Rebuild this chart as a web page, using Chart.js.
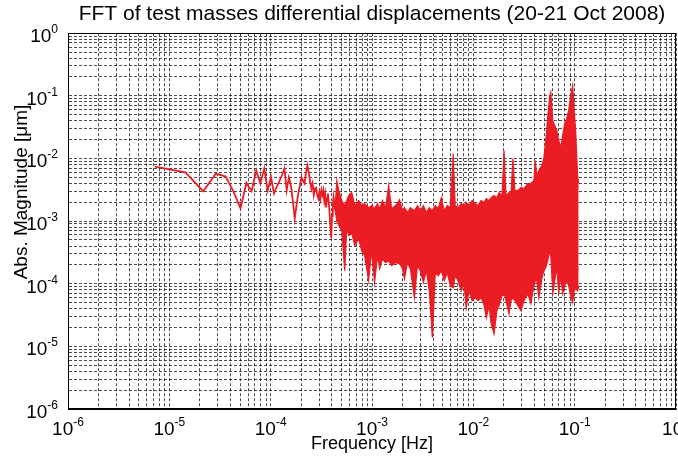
<!DOCTYPE html>
<html>
<head>
<meta charset="utf-8">
<title>FFT of test masses differential displacements</title>
<script src="https://cdn.jsdelivr.net/npm/chart.js@4.4.1/dist/chart.umd.min.js"></script>
<style>
  html, body { margin: 0; padding: 0; background: #fff; }
  canvas { display: block; }
</style>
</head>
<body>
<canvas id="fftChart" width="678" height="457"></canvas>
<script>
// low frequency bins, one trace (bin width ~7.2e-6 Hz)
var lowFreq = [
  7.2e-6, 1.44e-5, 2.16e-5, 2.88e-5, 3.60e-5, 4.32e-5, 5.04e-5, 5.76e-5, 6.48e-5, 7.20e-5,
  7.92e-5, 8.64e-5, 9.36e-5, 1.008e-4, 1.080e-4, 1.152e-4, 1.224e-4, 1.296e-4, 1.368e-4, 1.440e-4,
  1.512e-4, 1.584e-4, 1.656e-4, 1.728e-4, 1.800e-4, 1.872e-4, 1.944e-4, 2.016e-4, 2.088e-4, 2.160e-4,
  2.232e-4, 2.304e-4, 2.376e-4, 2.448e-4, 2.520e-4, 2.592e-4, 2.664e-4, 2.736e-4, 2.808e-4, 2.880e-4,
  2.952e-4, 3.024e-4, 3.096e-4, 3.168e-4, 3.240e-4, 3.312e-4, 3.384e-4, 3.456e-4, 3.528e-4, 3.600e-4,
  3.672e-4, 3.744e-4, 3.816e-4, 3.888e-4, 3.960e-4, 4.032e-4, 4.104e-4, 4.176e-4, 4.248e-4, 4.320e-4
];
var lowMag = [
  7.4e-3, 6.0e-3, 3.0e-3, 5.75e-3, 5.15e-3, 2.9e-3, 1.6e-3, 4.1e-3, 3.0e-3, 6.4e-3,
  4.0e-3, 6.9e-3, 3.1e-3, 5.0e-3, 2.75e-3, 3.6e-3, 4.4e-3, 5.5e-3, 6.9e-3, 3.1e-3,
  5.0e-3, 3.7e-3, 2.1e-3, 1.1e-3, 1.8e-3, 2.75e-3, 3.7e-3, 5.0e-3, 4.4e-3, 4.0e-3,
  6.0e-3, 7.7e-3, 6.0e-3, 4.4e-3, 3.3e-3, 4.0e-3, 2.6e-3, 3.3e-3, 3.4e-3, 2.65e-3,
  2.3e-3, 2.9e-3, 2.3e-3, 3.1e-3, 2.6e-3, 3.1e-3, 2.1e-3, 2.65e-3, 1.65e-3, 2.3e-3,
  2.75e-3, 2.0e-3, 1.35e-3, 8.5e-4, 5.4e-4, 1.2e-3, 1.8e-3, 2.4e-3, 1.9e-3, 1.5e-3
];

// above ~4e-4 Hz the bins are too dense to tell apart: upper and lower envelope
var bandFreq = [
  4.32e-4, 4.49e-4, 4.70e-4, 5.03e-4, 5.38e-4, 5.63e-4, 5.89e-4, 6.31e-4, 6.75e-4, 7.38e-4,
  7.91e-4, 8.46e-4, 9.26e-4, 9.91e-4, 1.06e-3, 1.135e-3, 1.19e-3, 1.27e-3, 1.36e-3, 1.46e-3,
  1.56e-3, 1.71e-3, 1.87e-3, 2.00e-3, 2.09e-3, 2.24e-3, 2.39e-3, 2.62e-3, 2.81e-3, 3.00e-3,
  3.21e-3, 3.44e-3, 3.68e-3, 3.94e-3, 4.21e-3, 4.51e-3, 4.83e-3, 5.16e-3, 5.53e-3, 5.92e-3,
  6.33e-3, 6.62e-3, 7.09e-3, 7.59e-3, 8.12e-3, 8.49e-3, 9.09e-3, 9.73e-3, 1.04e-2, 1.115e-2,
  1.19e-2, 1.28e-2, 1.34e-2, 1.43e-2, 1.50e-2, 1.60e-2, 1.71e-2, 1.79e-2, 1.92e-2, 2.01e-2,
  2.10e-2, 2.25e-2, 2.35e-2, 2.46e-2, 2.57e-2, 2.75e-2, 2.95e-2, 3.16e-2, 3.45e-2, 3.70e-2,
  3.96e-2, 4.09e-2, 4.23e-2, 4.43e-2, 4.74e-2, 4.96e-2, 5.19e-2, 5.43e-2, 5.68e-2, 5.81e-2,
  6.08e-2, 6.36e-2, 6.66e-2, 6.96e-2, 7.29e-2, 7.62e-2, 7.98e-2, 8.35e-2, 8.73e-2, 9.14e-2,
  9.56e-2, 9.89e-2, 1.023e-1, 1.07e-1, 1.095e-1
];
var bandHi = [
  1.5e-3, 4.45e-3, 3.08e-3, 2.13e-3, 1.77e-3, 2.13e-3, 2.56e-3, 2.86e-3, 1.77e-3, 2.13e-3,
  1.77e-3, 1.91e-3, 1.64e-3, 1.77e-3, 1.58e-3, 1.91e-3, 1.58e-3, 2.13e-3, 1.64e-3, 3.7e-3,
  1.58e-3, 1.77e-3, 2.2e-3, 1.47e-3, 1.64e-3, 1.37e-3, 1.64e-3, 1.47e-3, 1.77e-3, 1.47e-3,
  1.77e-3, 1.37e-3, 1.64e-3, 1.47e-3, 1.77e-3, 1.58e-3, 2.37e-3, 1.47e-3, 1.77e-3, 1.64e-3,
  1.2e-2, 1.77e-3, 1.64e-3, 1.91e-3, 1.77e-3, 1.98e-3, 1.77e-3, 2.13e-3, 1.91e-3, 1.77e-3,
  2.13e-3, 1.98e-3, 2.29e-3, 2.13e-3, 2.37e-3, 2.56e-3, 2.37e-3, 2.86e-3, 2.56e-3, 1.34e-2,
  2.56e-3, 2.86e-3, 2.75e-3, 1.0e-2, 3.08e-3, 3.08e-3, 3.44e-3, 3.31e-3, 3.98e-3, 3.98e-3,
  4.45e-3, 9.3e-3, 5.35e-3, 6.4e-3, 7.7e-3, 1.0e-2, 1.94e-2, 4.88e-2, 1.0e-1, 1.14e-1,
  4.05e-2, 3.37e-2, 2.8e-2, 1.94e-2, 1.49e-2, 2.33e-2, 3.63e-2, 4.37e-2, 5.86e-2, 1.0e-1,
  1.47e-1, 5.86e-2, 2.8e-2, 5.35e-3, 3.98e-3
];
var bandLo = [
  1.5e-3, 1.02e-3, 8.5e-4, 7.0e-4, 1.61e-4, 7.6e-4, 5.9e-4, 6.5e-4, 4.05e-4, 5.25e-4,
  3.37e-4, 2.8e-4, 1.12e-4, 3.37e-4, 1.04e-4, 2.8e-4, 1.74e-4, 2.5e-4, 2.17e-4, 2.33e-4,
  1.94e-4, 2.17e-4, 2.1e-4, 1.74e-4, 1.2e-4, 2.17e-4, 1.74e-4, 6.0e-5, 1.94e-4, 1.61e-4,
  1.04e-4, 1.61e-4, 7.7e-5, 1.37e-5, 1.5e-4, 1.34e-4, 1.61e-4, 1.12e-4, 1.5e-4, 9.3e-5,
  8.6e-5, 1.34e-4, 1.12e-4, 7.7e-5, 1.0e-4, 4.1e-5, 7.7e-5, 5.35e-5, 6.0e-5, 5.35e-5,
  6.0e-5, 4.45e-5, 2.86e-5, 4.45e-5, 2.29e-5, 1.58e-5, 3.7e-5, 4.45e-5, 6.4e-5, 7.2e-5,
  5.35e-5, 3.3e-5, 5.35e-5, 6.0e-5, 5.35e-5, 4.45e-5, 3.7e-5, 5.35e-5, 6.9e-5, 4.8e-5,
  9.3e-5, 1.12e-4, 1.12e-4, 6.0e-5, 1.2e-4, 1.61e-4, 1.8e-4, 2.33e-4, 3.37e-4, 2.8e-4,
  6.9e-5, 1.12e-4, 1.8e-4, 6.9e-5, 1.34e-4, 6.9e-5, 9.3e-5, 1.12e-4, 9.3e-5, 6.4e-5,
  5.0e-5, 7.7e-5, 8.3e-5, 7.7e-5, 9.3e-5
];

// decade ticks, labelled 10 with a raised exponent
var decades = [1e-6, 1e-5, 1e-4, 1e-3, 1e-2, 1e-1, 1];
var tickExp = ['-6', '-5', '-4', '-3', '-2', '-1', '0'];

var red = '#ec1c24';
var fontFamily = '"Liberation Sans", Arial, sans-serif';

function pts(xs, ys) {
  return xs.map(function(x, i) { return { x: x, y: ys[i] }; });
}

// grid at 1..9 x 10^n like matlab
function gridTicks(scale) {
  var t = [];
  decades.forEach(function(d, i) {
    if (i == decades.length - 1) { t.push({ value: d }); return; }
    for (var m = 1; m < 10; m++) t.push({ value: m * d });
  });
  scale.ticks = t;
}

// box around the axes + 10^n labels + rotated ylabel
var axesPlugin = {
  id: 'matlabAxes',
  afterDraw: function(chart) {
    var a = chart.chartArea, ctx = chart.ctx;
    var xs = chart.scales.x, ys = chart.scales.y;
    ctx.save();
    ctx.strokeStyle = '#000';
    ctx.lineWidth = 1;
    ctx.strokeRect(Math.round(a.left) + 0.5, Math.round(a.top) + 0.5,
      Math.round(a.right - a.left) - 1, Math.round(a.bottom - a.top) - 1);

    ctx.fillStyle = '#000';
    ctx.textBaseline = 'alphabetic';
    ctx.textAlign = 'left';
    var big = '19px ' + fontFamily, small = '12px ' + fontFamily;
    for (var i = 0; i < decades.length; i++) {
      ctx.font = big;
      var w1 = ctx.measureText('10').width;
      ctx.font = small;
      var w2 = ctx.measureText(tickExp[i]).width;

      // x axis
      var px = xs.getPixelForValue(decades[i]);
      var x0 = px - (w1 + w2) / 2;
      var base = a.bottom + 26;
      ctx.font = big;
      ctx.fillText('10', x0, base);
      ctx.font = small;
      ctx.fillText(tickExp[i], x0 + w1, base - 9);

      // y axis
      var py = ys.getPixelForValue(decades[i]);
      var right = a.left - 10;
      ctx.font = big;
      ctx.fillText('10', right - w2 - w1, py + 9);
      ctx.font = small;
      ctx.fillText(tickExp[i], right - w2, py);
    }

    ctx.translate(22, 192);
    ctx.rotate(-Math.PI / 2);
    ctx.textAlign = 'center';
    ctx.textBaseline = 'middle';
    ctx.font = '19px ' + fontFamily;
    ctx.fillText('Abs. Magnitude [μm]', 0, 0);
    ctx.restore();
  }
};

Chart.defaults.font.family = fontFamily;
Chart.defaults.color = '#000';

var gridOpts = { color: '#000', lineWidth: 0.7, drawTicks: false };
var borderOpts = { display: true, color: '#000', width: 1, dash: [3, 2] };

var ctx = document.getElementById('fftChart').getContext('2d');
var fftChart = new Chart(ctx, {
  type: 'line',
  data: {
    datasets: [{
      label: 'low',
      data: pts(lowFreq, lowMag),
      borderColor: red,
      borderWidth: 1.8,
      pointRadius: 0,
      fill: false
    }, {
      label: 'upper',
      data: pts(bandFreq, bandHi),
      borderColor: red,
      borderWidth: 1.2,
      pointRadius: 0,
      fill: false
    }, {
      label: 'lower',
      data: pts(bandFreq, bandLo),
      borderColor: red,
      backgroundColor: red,
      borderWidth: 1.2,
      pointRadius: 0,
      fill: '-1'
    }]
  },
  options: {
    responsive: false,
    animation: false,
    layout: { padding: { left: 0, right: 2, top: 0, bottom: 0 } },
    plugins: {
      legend: { display: false },
      tooltip: { enabled: false },
      title: {
        display: true,
        text: 'FFT of test masses differential displacements (20-21 Oct 2008)',
        font: { size: 21, weight: 'normal' },
        padding: { top: 2, bottom: 6 },
        fullSize: false
      }
    },
    scales: {
      x: {
        type: 'logarithmic',
        min: 1e-6,
        max: 1,
        grid: gridOpts,
        border: borderOpts,
        afterBuildTicks: gridTicks,
        afterFit: function(scale) { scale.height = 48; scale.paddingLeft = 0; scale.paddingRight = 0; },
        ticks: { display: false, autoSkip: false },
        title: { display: true, text: 'Frequency [Hz]', font: { size: 18 }, padding: { top: 0, bottom: 2 } }
      },
      y: {
        type: 'logarithmic',
        min: 1e-6,
        max: 1,
        grid: gridOpts,
        border: borderOpts,
        afterBuildTicks: gridTicks,
        afterFit: function(scale) { scale.width = 68; scale.paddingTop = 0; scale.paddingBottom = 0; },
        ticks: { display: false, autoSkip: false }
      }
    }
  },
  plugins: [axesPlugin]
});
</script>
</body>
</html>
